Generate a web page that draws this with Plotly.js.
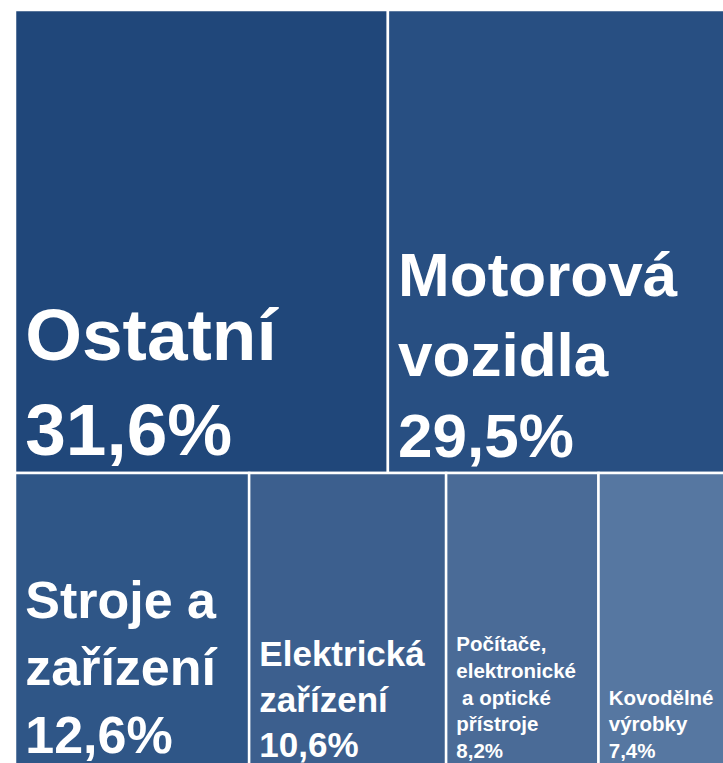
<!DOCTYPE html>
<html>
<head>
<meta charset="utf-8">
<script src="https://cdn.plot.ly/plotly-3.0.1.min.js"></script>
<style>
html, body { margin: 0; padding: 0; background: #ffffff; overflow: hidden; }
#chart { width: 736px; height: 767px; }
</style>
</head>
<body>
<div id="chart"></div>
<script>
// Categories (with line breaks as in the reference) and their shares in %
const categories = [
  "Ostatní",
  "Motorová<br>vozidla",
  "Stroje a<br>zařízení",
  "Elektrická<br>zařízení",
  "Počítače,<br>elektronické<br> a optické<br>přístroje",
  "Kovodělné<br>výrobky"
];
const shares = [31.6, 29.5, 12.6, 10.6, 8.2, 7.4];
const rowOf = ["top", "top", "bottom", "bottom", "bottom", "bottom"];
const colors = ["#20477a", "#284f82", "#2f5687", "#3c5f8e", "#4a6b97", "#5677a1"];
const fontSizes = [73, 62, 52, 35, 20.5, 20.5];

const ids = ["root", "top", "bottom"];
const parents = ["", "root", "root"];
const values = [0, 0, 0];
const texts = ["", "", ""];
const markerColors = ["#ffffff", "#ffffff", "#ffffff"];
const sizes = [12, 12, 12];
const indent = '<span style="font-size:26px"> </span>';
categories.forEach((c, i) => {
  ids.push("leaf" + i);
  parents.push(rowOf[i]);
  values.push(shares[i]);
  const lines = (c + "<br>" + shares[i].toFixed(1).replace(".", ",") + "%").split("<br>");
  texts.push(lines.map(l => indent + l).join("<br>"));
  markerColors.push(colors[i]);
  sizes.push(fontSizes[i]);
});

const trace = {
  type: "treemap",
  ids: ids,
  labels: ids,
  parents: parents,
  values: values,
  branchvalues: "remainder",
  text: texts,
  textinfo: "text",
  textposition: "bottom left",
  textfont: { family: "Liberation Sans, Arial, sans-serif", color: "#ffffff", size: sizes, weight: "bold" },
  marker: {
    colors: markerColors,
    line: { color: "#ffffff", width: 2.5 },
    pad: { t: 0, l: 0, r: 0, b: 0 }
  },
  tiling: { packing: "dice-slice", pad: 0 },
  pathbar: { visible: false },
  sort: true,
  hoverinfo: "skip"
};

const layout = {
  width: 736,
  height: 767,
  margin: { l: 15, r: 0, t: 10, b: 0 },
  paper_bgcolor: "#ffffff",
  showlegend: false
};

Plotly.newPlot("chart", [trace], layout, { displayModeBar: false, staticPlot: true });
</script>
</body>
</html>
